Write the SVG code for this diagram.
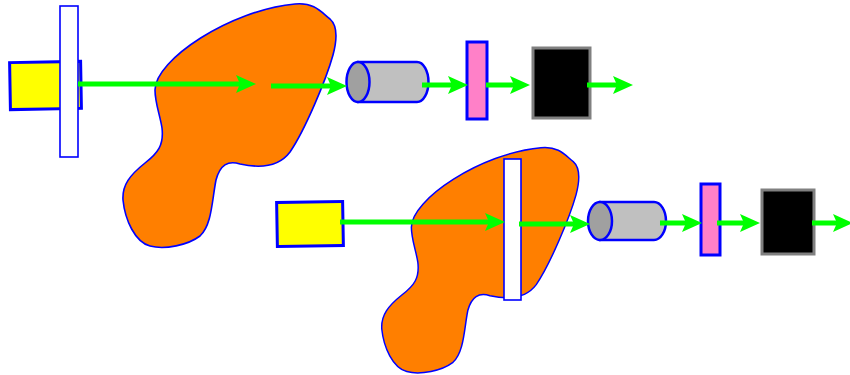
<svg xmlns="http://www.w3.org/2000/svg" xmlns:xlink="http://www.w3.org/1999/xlink" width="850" height="375" viewBox="0 0 850 375">
  <style>
    .blob { fill: #FF7F00; stroke: #0000FF; stroke-width: 1.6; }
    .src { fill: #FFFF00; stroke: #0000FF; stroke-width: 3; }
    .plate { fill: #FFFFFF; stroke: #0000FF; stroke-width: 1.6; }
    .filter { fill: #FF80C8; stroke: #0000FF; stroke-width: 3; }
    .det { fill: #000000; stroke: #808080; stroke-width: 3; }
    .cyl { fill: #C0C0C0; stroke: #0000FF; stroke-width: 2.5; }
    .cap { fill: #A0A0A0; stroke: #0000FF; stroke-width: 2.5; }
    .beam { stroke: #00FF00; stroke-width: 5; fill: none; marker-end: url(#head); }
  </style>
  <defs>
    <marker id="head" markerUnits="userSpaceOnUse" markerWidth="22" markerHeight="20" refX="10" refY="9" orient="auto" overflow="visible">
      <path d="M0,0 L20,9 L0,18 L4,9 Z" fill="#00FF00"/>
    </marker>
    <path id="blobShape" d="M155,90 C155,60 230,10 295,4 C315,2 322,13 330,19 C338,26 337,40 333,55 C326,80 305,130 290,152 C278,168 258,168 240,164 C228,160 220,165 216,180 C212,200 212,225 200,236 C188,245 165,250 150,246 C135,242 125,220 123,200 C122,185 130,175 145,163 C158,153 164,145 162,128 C160,115 155,103 155,90 Z"/>
  </defs>

  <!-- upper setup -->
  <g id="medium-1"><use xlink:href="#blobShape" class="blob"/></g>
  <g id="source-1"><rect class="src" x="10" y="62" width="71" height="47" transform="rotate(-1 45 85)"/></g>
  <g id="plate-1"><rect class="plate" x="60" y="6" width="18" height="151"/></g>
  <g id="lens-1">
    <path class="cyl" d="M358,62 L417,62 A11.5,20 0 0 1 417,102 L358,102 Z"/>
    <ellipse class="cap" cx="358" cy="82" rx="11.5" ry="20"/>
  </g>
  <g id="filter-1"><rect class="filter" x="467" y="42" width="20" height="77"/></g>
  <g id="detector-1"><rect class="det" x="533" y="48" width="57" height="70"/></g>

  <!-- lower setup -->
  <g id="medium-2"><use xlink:href="#blobShape" class="blob" transform="translate(268,144) scale(0.925)" vector-effect="non-scaling-stroke"/></g>
  <g id="source-2"><rect class="src" x="277" y="202" width="66" height="44" transform="rotate(-1 310 224)"/></g>
  <g id="plate-2"><rect class="plate" x="504" y="159" width="17" height="141"/></g>
  <g id="lens-2">
    <path class="cyl" d="M600,202 L654,202 A12,19 0 0 1 654,240 L600,240 Z"/>
    <ellipse class="cap" cx="600" cy="221" rx="12" ry="19"/>
  </g>
  <g id="filter-2"><rect class="filter" x="701" y="184" width="19" height="71"/></g>
  <g id="detector-2"><rect class="det" x="762" y="190" width="52" height="64"/></g>

  <!-- beams -->
  <g id="connectors">
    <line class="beam" x1="78" y1="84" x2="246" y2="84"/>
    <line class="beam" x1="271" y1="86" x2="337" y2="86"/>
    <line class="beam" x1="422" y1="85" x2="458" y2="85"/>
    <line class="beam" x1="486" y1="85" x2="520" y2="85"/>
    <line class="beam" x1="587" y1="85" x2="623" y2="85"/>
    <line class="beam" x1="340" y1="222" x2="495" y2="222"/>
    <line class="beam" x1="519" y1="224" x2="580" y2="224"/>
    <line class="beam" x1="660" y1="223" x2="692" y2="223"/>
    <line class="beam" x1="717" y1="223" x2="750" y2="223"/>
    <line class="beam" x1="812" y1="223" x2="843" y2="223"/>
  </g>
</svg>
